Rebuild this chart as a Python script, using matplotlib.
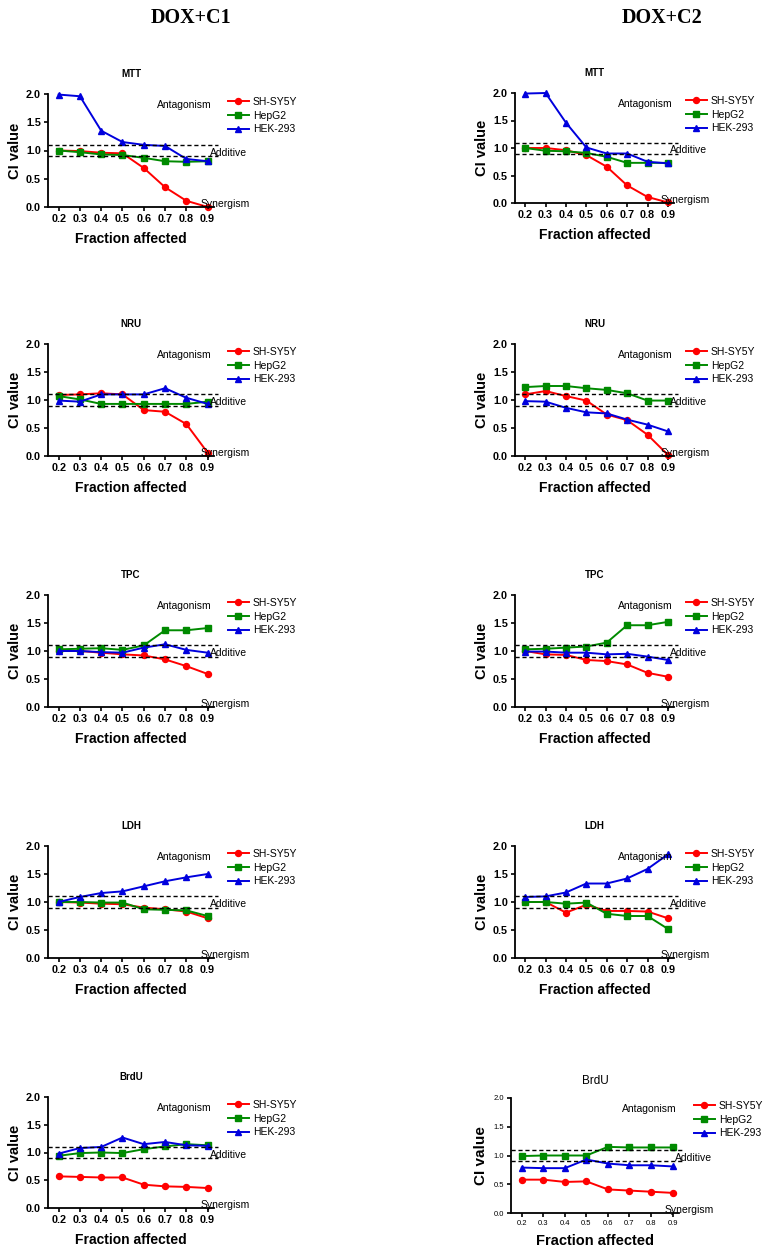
import matplotlib
matplotlib.use("Agg")
import matplotlib.pyplot as plt

plt.rcParams['font.family'] = ['Liberation Sans', 'DejaVu Sans']

# fraction affected
fa = [0.2, 0.3, 0.4, 0.5, 0.6, 0.7, 0.8, 0.9]
lines = ['SH-SY5Y', 'HepG2', 'HEK-293']
assays = ['MTT', 'NRU', 'TPC', 'LDH', 'BrdU']

# DOX+C1
mtt_c1_sh = [1.00, 0.99, 0.96, 0.95, 0.69, 0.35, 0.11, 0.00]
mtt_c1_hep = [1.00, 0.97, 0.93, 0.92, 0.87, 0.81, 0.80, 0.81]
mtt_c1_hek = [1.99, 1.96, 1.35, 1.15, 1.10, 1.08, 0.85, 0.81]
nru_c1_sh = [1.09, 1.10, 1.12, 1.10, 0.82, 0.79, 0.57, 0.06]
nru_c1_hep = [1.07, 1.01, 0.93, 0.93, 0.93, 0.93, 0.93, 0.97]
nru_c1_hek = [0.99, 0.97, 1.10, 1.10, 1.10, 1.21, 1.04, 0.93]
tpc_c1_sh = [1.00, 1.00, 0.97, 0.94, 0.92, 0.85, 0.73, 0.59]
tpc_c1_hep = [1.03, 1.04, 1.05, 1.02, 1.10, 1.37, 1.37, 1.41]
tpc_c1_hek = [1.00, 1.00, 0.98, 0.97, 1.06, 1.12, 1.02, 0.97]
ldh_c1_sh = [1.00, 0.99, 0.97, 0.96, 0.90, 0.87, 0.83, 0.71]
ldh_c1_hep = [1.00, 1.00, 0.99, 0.99, 0.87, 0.86, 0.85, 0.75]
ldh_c1_hek = [1.00, 1.09, 1.16, 1.19, 1.28, 1.37, 1.44, 1.50]
brdu_c1_sh = [0.57, 0.56, 0.55, 0.55, 0.42, 0.39, 0.38, 0.36]
brdu_c1_hep = [0.94, 0.99, 1.00, 0.99, 1.06, 1.11, 1.15, 1.13]
brdu_c1_hek = [0.98, 1.08, 1.10, 1.27, 1.15, 1.19, 1.13, 1.12]

# DOX+C2
mtt_c2_sh = [1.00, 1.00, 0.96, 0.87, 0.66, 0.32, 0.11, 0.01]
mtt_c2_hep = [1.00, 0.95, 0.94, 0.91, 0.84, 0.73, 0.73, 0.73]
mtt_c2_hek = [1.99, 2.00, 1.46, 1.01, 0.90, 0.90, 0.75, 0.72]
nru_c2_sh = [1.10, 1.16, 1.07, 0.99, 0.74, 0.64, 0.38, 0.02]
nru_c2_hep = [1.23, 1.25, 1.25, 1.21, 1.18, 1.12, 0.99, 0.99]
nru_c2_hek = [0.98, 0.97, 0.86, 0.78, 0.76, 0.65, 0.56, 0.44]
tpc_c2_sh = [1.00, 0.94, 0.93, 0.84, 0.82, 0.76, 0.61, 0.54]
tpc_c2_hep = [1.03, 1.04, 1.06, 1.08, 1.15, 1.46, 1.46, 1.52]
tpc_c2_hek = [0.99, 0.99, 0.97, 0.97, 0.94, 0.95, 0.90, 0.84]
ldh_c2_sh = [1.00, 1.00, 0.81, 0.95, 0.84, 0.84, 0.83, 0.71]
ldh_c2_hep = [1.00, 1.00, 0.97, 0.99, 0.79, 0.75, 0.75, 0.52]
ldh_c2_hek = [1.09, 1.10, 1.17, 1.33, 1.33, 1.42, 1.59, 1.85]
brdu_c2_sh = [0.58, 0.58, 0.54, 0.55, 0.41, 0.39, 0.37, 0.35]
brdu_c2_hep = [0.99, 1.00, 1.00, 1.00, 1.15, 1.14, 1.14, 1.14]
brdu_c2_hek = [0.79, 0.78, 0.78, 0.93, 0.86, 0.83, 0.83, 0.81]

c1 = [(mtt_c1_sh, mtt_c1_hep, mtt_c1_hek), (nru_c1_sh, nru_c1_hep, nru_c1_hek),
      (tpc_c1_sh, tpc_c1_hep, tpc_c1_hek), (ldh_c1_sh, ldh_c1_hep, ldh_c1_hek),
      (brdu_c1_sh, brdu_c1_hep, brdu_c1_hek)]
c2 = [(mtt_c2_sh, mtt_c2_hep, mtt_c2_hek), (nru_c2_sh, nru_c2_hep, nru_c2_hek),
      (tpc_c2_sh, tpc_c2_hep, tpc_c2_hek), (ldh_c2_sh, ldh_c2_hep, ldh_c2_hek),
      (brdu_c2_sh, brdu_c2_hep, brdu_c2_hek)]

colors = ['#ff0000', '#008a00', '#0000dd']
markers = ['o', 's', '^']

W, H = 766, 1252
fig = plt.figure(figsize=(W / 100, H / 100), dpi=100)

tops = [94, 344, 595, 846, 1097]
bots = [207, 456, 707, 958, 1208]


def panel(left, right, top, bot, title, series, leg_x, odd=False):
    ax = fig.add_axes([left / W, 1 - bot / H, (right - left) / W, (bot - top) / H])
    for ys, c, m, lab in zip(series, colors, markers, lines):
        ax.plot(fa, ys, color=c, marker=m, ms=4.3, lw=1.4, label=lab, clip_on=False)
    for yv in (0.9, 1.1):
        ax.plot([0.15, 0.95], [yv, yv], color='black', lw=1, ls=(0, (3, 2)), clip_on=False)
    ax.set_xlim(0.15, 0.93)
    ax.set_ylim(0, 2.0)
    ax.set_xticks(fa)
    ax.set_yticks([0, 0.5, 1.0, 1.5, 2.0])
    ax.set_xticklabels([f'{v:.1f}' for v in fa])
    ax.set_yticklabels([f'{v:.1f}' for v in [0, 0.5, 1.0, 1.5, 2.0]])
    for s in ('top', 'right'):
        ax.spines[s].set_visible(False)
    for s in ('left', 'bottom'):
        ax.spines[s].set_linewidth(1.3)
    ax.tick_params(direction='out', length=3, width=1.2, pad=2)
    if odd:
        ax.tick_params(labelsize=5.5)
        ax.set_title(title, fontsize=8.5, pad=10)
        ax.set_ylabel('CI value', fontsize=11, fontweight='bold', labelpad=4)
        ax.set_xlabel('Fraction affected', fontsize=10.5, fontweight='bold', labelpad=5)
    else:
        ax.tick_params(labelsize=7.8)
        for t in ax.get_xticklabels() + ax.get_yticklabels():
            t.set_fontweight('bold')
        ax.set_title(title, fontsize=7, fontweight='bold', pad=12)
        ax.set_ylabel('CI value', fontsize=10.5, fontweight='bold', labelpad=3)
        ax.set_xlabel('Fraction affected', fontsize=10, fontweight='bold', labelpad=6)
    ax.text(0.79, 1.8, 'Antagonism', fontsize=7.5, ha='center', va='center')
    ax.text(0.912, 0.96, 'Additive', fontsize=7.5, ha='left', va='center')
    ax.text(0.865, 0.06, 'Synergism', fontsize=7.5, ha='left', va='center')
    ax.legend(loc='upper left', bbox_to_anchor=(leg_x / W, 1 - (top + 3) / H),
              bbox_transform=fig.transFigure, frameon=False, fontsize=7.5,
              handlelength=2.0, handletextpad=0.4, labelspacing=0.35,
              borderpad=0, borderaxespad=0)
    return ax


for i, a in enumerate(assays):
    panel(48, 214, tops[i], bots[i], a, c1[i], 228)
    if i < 4:
        panel(515, 674, tops[i] - (1 if i == 0 else 0), bots[i] - (4 if i == 0 else 0), a, c2[i], 686)
    else:
        panel(511, 679, 1098, 1213, a, c2[i], 694, odd=True)

fig.text(191 / W, 1 - 18 / H, 'DOX+C1', family='Liberation Serif', fontweight='bold',
         fontsize=14.5, ha='center', va='center')
fig.text(662 / W, 1 - 18 / H, 'DOX+C2', family='Liberation Serif', fontweight='bold',
         fontsize=14.5, ha='center', va='center')

fig.savefig('out.png', dpi=100)
